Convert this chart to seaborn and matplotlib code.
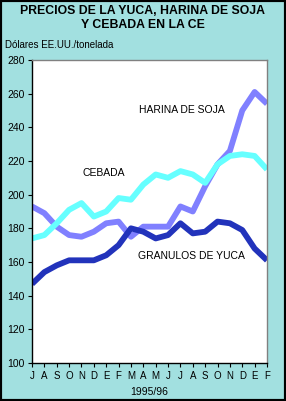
import matplotlib
matplotlib.use("Agg")
import matplotlib.pyplot as plt
import seaborn as sns
import pandas as pd
from matplotlib.patches import Rectangle

months = ["J", "A", "S", "O", "N", "D", "E", "F", "M", "A", "M", "J",
          "J", "A", "S", "O", "N", "D", "E", "F"]
yuca = [147, 154, 158, 161, 161, 161, 164, 170, 180, 178, 174, 176,
        183, 177, 178, 184, 183, 179, 168, 161]
soja = [193, 189, 181, 176, 175, 178, 183, 184, 175, 181, 181, 181,
        193, 190, 205, 218, 226, 250, 261, 254]
cebada = [174, 176, 183, 191, 195, 187, 190, 198, 197, 206, 212, 210,
          214, 212, 207, 218, 223, 224, 223, 215]
series_names = ["HARINA DE SOJA", "CEBADA", "GRANULOS DE YUCA"]
yticks = list(range(100, 281, 20))

sns.set_style("white")
plt.rcParams['font.family'] = ['Liberation Sans', 'DejaVu Sans']
for k in ["text.color", "axes.labelcolor", "xtick.color", "ytick.color"]:
    plt.rcParams[k] = "black"

rows = []
for name, vals in zip(series_names, [soja, cebada, yuca]):
    for i, v in enumerate(vals):
        rows.append({"idx": i, "value": v, "series": name})
df = pd.DataFrame(rows)

W, H = 286, 401
fig = plt.figure(figsize=(W / 100, H / 100), dpi=100)
bg = "#A2E0E0"
fig.patch.set_facecolor(bg)
ax = fig.add_axes([32 / W, 1 - 363 / H, (267 - 32) / W, (363 - 60) / H])
ax.set_facecolor("white")

palette = {"HARINA DE SOJA": "#8080FF", "CEBADA": "#66FFFF",
           "GRANULOS DE YUCA": "#2233BB"}
sns.lineplot(data=df, x="idx", y="value", hue="series", palette=palette,
             linewidth=4.2, legend=False, ax=ax, solid_capstyle="butt")

ax.set_xlim(0, 19)
ax.set_ylim(100, 280)
ax.set_yticks(yticks)
ax.set_yticklabels([str(t) for t in yticks], fontsize=7.5)
ax.set_xticks(range(len(months)))
ax.set_xticklabels(months, fontsize=7)
ax.tick_params(axis="both", direction="out", length=3, width=0.8,
               color="black", pad=2, left=True, bottom=True)
ax.tick_params(axis="x", pad=3)
ax.set_xlabel("1995/96", fontsize=7.5, labelpad=4)
ax.set_ylabel("")
for s in ["left", "bottom"]:
    ax.spines[s].set_color("black")
    ax.spines[s].set_linewidth(1.0)
for s in ["top", "right"]:
    ax.spines[s].set_color("#808080")
    ax.spines[s].set_linewidth(1.0)

ax.text(12.1, 250.3, "HARINA DE SOJA", fontsize=7.5, ha="center", va="center")
ax.text(5.8, 212.9, "CEBADA", fontsize=7.5, ha="center", va="center")
ax.text(12.9, 163.6, "GRANULOS DE YUCA", fontsize=7.5, ha="center", va="center")

fig.text(0.5, 1 - 18 / H, "PRECIOS DE LA YUCA, HARINA DE SOJA\nY CEBADA EN LA CE",
         ha="center", va="center", fontsize=8.8, fontweight="bold",
         linespacing=1.15)
fig.text(5 / W, 1 - 45 / H, "Dólares EE.UU./tonelada", ha="left", va="center",
         fontsize=7)

fig.add_artist(Rectangle((0, 0), 1, 1, transform=fig.transFigure,
                         fill=False, edgecolor="black", linewidth=3))

fig.savefig("out.png", dpi=100, facecolor=bg)
